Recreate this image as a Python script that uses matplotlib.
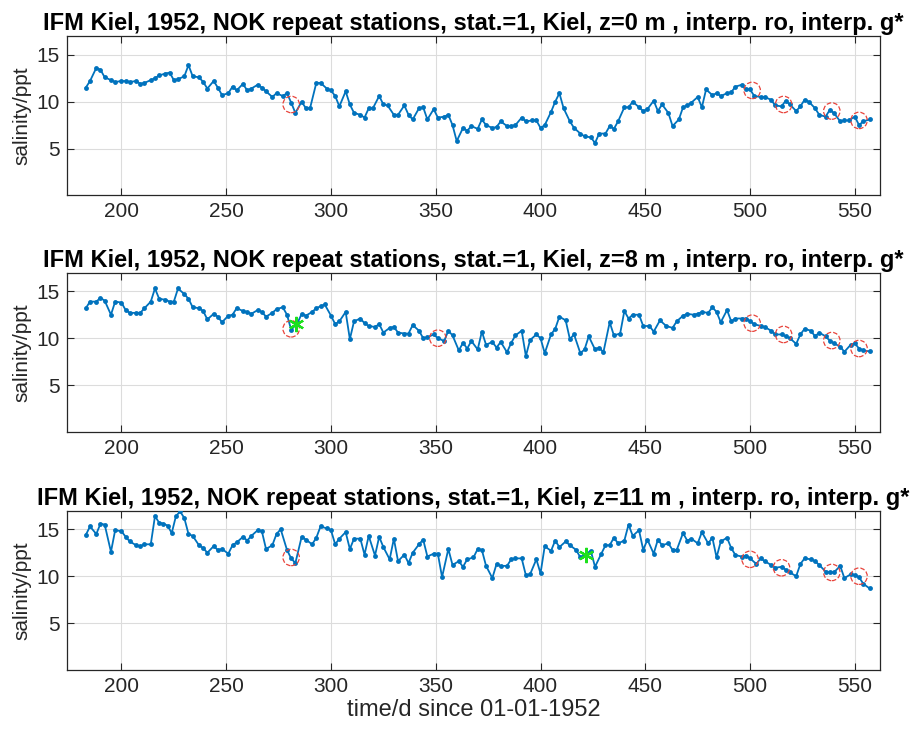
import numpy as np
import matplotlib
matplotlib.use("Agg")
import matplotlib.pyplot as plt

# === DATA ===
t1 = [183, 185, 188, 190, 192, 195, 197, 200, 202, 204, 207, 209, 211, 214, 216, 218, 221, 223, 225, 227,
      230, 232, 234, 237, 239, 241, 244, 246, 248, 251, 253, 255, 258, 260, 262, 265, 267, 269, 272, 274,
      277, 279, 281, 283, 286, 288, 290, 293, 295, 298, 300, 302, 304, 307, 309, 311, 314, 316, 318, 320,
      323, 325, 327, 330, 332, 335, 337, 339, 342, 344, 346, 349, 351, 354, 356, 358, 360, 363, 365, 367,
      370, 372, 374, 377, 379, 381, 384, 386, 388, 391, 393, 396, 398, 400, 402, 405, 407, 409, 411, 414,
      416, 419, 421, 424, 426, 428, 431, 433, 435, 437, 440, 442, 444, 447, 449, 451, 454, 456, 458, 461,
      463, 466, 468, 470, 472, 475, 477, 479, 482, 484, 486, 489, 491, 493, 496, 498, 500, 502, 505, 507,
      510, 512, 515, 517, 519, 522, 524, 526, 528, 531, 533, 536, 538, 540, 543, 545, 547, 550, 552, 554,
      557]
s1 = [11.5, 12.2, 13.6, 13.4, 12.6, 12.3, 12.1, 12.2, 12.2, 12.1, 12.2, 11.9, 12.0, 12.3, 12.5, 12.8, 13.0, 13.1, 12.3, 12.4,
      12.7, 13.9, 12.7, 12.6, 12.1, 11.4, 12.2, 11.5, 10.7, 10.9, 11.6, 11.2, 11.9, 11.2, 11.4, 11.8, 11.5, 11.1, 10.5, 10.9,
      10.6, 10.9, 9.9, 8.8, 10.0, 9.3, 9.3, 12.0, 12.0, 11.4, 11.2, 10.6, 9.5, 11.1, 9.7, 8.8, 8.6, 8.3, 9.3, 9.3,
      10.6, 9.7, 9.6, 8.6, 8.6, 9.6, 8.6, 8.1, 9.3, 9.4, 8.1, 9.2, 8.3, 8.4, 8.6, 7.5, 5.8, 7.2, 6.9, 7.4,
      7.1, 8.1, 7.5, 7.2, 7.3, 7.9, 7.4, 7.4, 7.5, 8.3, 7.9, 8.0, 8.0, 7.2, 7.5, 8.9, 10.0, 10.9, 9.3, 7.9,
      7.2, 6.6, 6.3, 6.2, 5.6, 6.6, 6.6, 7.4, 7.1, 7.9, 9.4, 9.4, 10.0, 9.4, 9.0, 9.2, 10.1, 9.0, 9.7, 8.8,
      7.4, 8.1, 9.4, 9.6, 9.9, 10.5, 9.4, 11.3, 10.7, 10.9, 10.6, 10.9, 11.0, 11.6, 11.8, 11.3, 11.3, 10.6, 10.5, 10.5,
      10.2, 9.6, 9.5, 10.1, 9.7, 9.0, 9.5, 10.2, 10.0, 9.3, 8.6, 8.4, 9.1, 8.8, 7.9, 8.0, 8.0, 8.4, 7.5, 7.9,
      8.1]

t2 = [183, 185, 188, 190, 192, 195, 197, 200, 202, 204, 207, 209, 211, 214, 216, 218, 221, 223, 225, 227,
      230, 232, 234, 237, 239, 241, 244, 246, 248, 251, 253, 255, 258, 260, 262, 265, 267, 269, 272, 274,
      277, 279, 281, 284, 286, 288, 291, 293, 295, 297, 300, 302, 304, 307, 309, 311, 314, 316, 318, 321,
      323, 325, 328, 330, 332, 335, 337, 339, 342, 344, 346, 349, 351, 354, 356, 358, 361, 363, 365, 367,
      370, 372, 374, 377, 379, 381, 384, 386, 388, 391, 393, 395, 398, 400, 402, 405, 407, 409, 412, 414,
      416, 419, 421, 423, 426, 428, 430, 433, 435, 438, 440, 442, 444, 447, 449, 452, 454, 457, 460, 463,
      465, 468, 470, 473, 475, 477, 480, 482, 484, 486, 489, 491, 493, 496, 498, 500, 502, 505, 507, 510,
      512, 515, 517, 519, 522, 524, 526, 529, 531, 533, 536, 538, 540, 543, 545, 548, 550, 552, 554, 557]
s2 = [13.2, 13.9, 13.9, 14.3, 14.0, 12.5, 13.9, 13.8, 13.0, 12.7, 12.7, 12.7, 13.2, 13.9, 15.3, 14.2, 14.1, 13.9, 13.9, 15.3,
      14.7, 14.2, 13.3, 13.2, 12.9, 12.0, 12.6, 12.3, 11.7, 12.4, 12.5, 13.2, 12.9, 12.8, 12.6, 13.0, 12.8, 12.3, 12.7, 13.1,
      13.3, 12.5, 10.9, 11.6, 12.6, 12.4, 12.8, 13.2, 13.4, 13.6, 12.4, 11.5, 11.8, 12.8, 9.9, 11.8, 12.1, 11.6, 11.3, 11.2,
      11.5, 10.6, 11.1, 11.2, 10.6, 10.5, 10.5, 11.4, 10.8, 10.0, 10.1, 10.4, 10.0, 9.7, 10.8, 10.3, 8.7, 9.5, 8.9, 9.7,
      8.8, 10.7, 9.3, 9.6, 9.0, 9.6, 8.5, 9.5, 10.3, 10.8, 8.1, 9.8, 10.4, 10.0, 8.4, 10.4, 11.0, 12.3, 11.9, 9.9,
      10.4, 8.4, 8.8, 10.2, 8.8, 9.0, 8.5, 11.7, 10.3, 10.5, 12.9, 12.1, 12.5, 12.5, 11.3, 11.3, 10.7, 11.9, 11.3, 11.1,
      11.8, 12.4, 12.6, 12.5, 12.6, 12.8, 12.7, 13.3, 12.8, 11.7, 13.0, 11.8, 12.1, 12.1, 12.1, 11.8, 11.5, 11.3, 11.2, 10.8,
      10.4, 10.4, 10.2, 10.0, 9.4, 10.4, 11.0, 10.8, 10.2, 10.6, 10.2, 9.75, 9.45, 9.1, 8.55, 9.3, 9.45, 8.9, 8.7, 8.6]

t3 = [183, 185, 188, 190, 192, 195, 197, 200, 202, 204, 207, 209, 211, 214, 216, 218, 220, 222, 224, 226,
      228, 230, 232, 234, 237, 239, 241, 244, 246, 248, 251, 253, 255, 258, 260, 262, 265, 267, 269, 272,
      274, 276, 279, 281, 283, 286, 288, 291, 293, 295, 298, 300, 302, 304, 307, 309, 311, 314, 316, 318,
      321, 323, 325, 328, 330, 332, 335, 337, 339, 342, 344, 346, 349, 351, 353, 356, 358, 361, 363, 365,
      368, 370, 372, 374, 377, 379, 381, 384, 386, 388, 391, 393, 395, 398, 400, 402, 405, 407, 409, 412,
      414, 417, 419, 421, 424, 426, 429, 431, 433, 435, 437, 440, 442, 444, 447, 449, 451, 454, 456, 458,
      461, 463, 465, 468, 470, 472, 475, 477, 480, 482, 484, 486, 489, 491, 493, 496, 498, 500, 503, 505,
      507, 510, 512, 515, 517, 519, 522, 524, 526, 529, 531, 533, 536, 538, 540, 543, 545, 548, 550, 552,
      554, 557]
s3 = [14.4, 15.3, 14.5, 15.6, 15.5, 12.6, 14.9, 14.8, 14.2, 13.7, 13.3, 13.2, 13.4, 13.4, 16.4, 15.7, 15.6, 15.4, 14.6, 16.4,
      16.9, 16.2, 14.5, 14.3, 13.3, 13.0, 12.5, 13.2, 12.8, 12.9, 12.4, 13.3, 13.6, 14.2, 13.8, 14.3, 14.9, 14.8, 12.9, 13.3,
      14.5, 15.0, 12.8, 11.9, 11.4, 14.2, 13.9, 13.4, 14.1, 15.3, 15.1, 14.9, 13.4, 14.0, 14.7, 12.9, 14.0, 14.0, 12.3, 14.3,
      12.2, 14.2, 13.1, 11.8, 14.0, 11.6, 12.3, 11.4, 12.5, 13.4, 13.9, 12.1, 12.4, 12.4, 9.9, 12.9, 11.2, 11.6, 11.0, 11.8,
      12.0, 12.9, 12.8, 11.1, 9.8, 11.3, 11.1, 11.1, 11.8, 11.9, 11.9, 10.1, 10.2, 11.8, 10.3, 13.2, 12.7, 13.8, 13.1, 13.7,
      13.3, 12.8, 12.0, 12.3, 12.7, 11.0, 12.4, 13.3, 13.3, 14.1, 13.5, 13.8, 15.5, 14.3, 14.9, 12.8, 13.9, 12.4, 13.9, 13.3,
      13.5, 12.8, 12.8, 14.6, 13.8, 14.0, 13.5, 14.7, 13.5, 14.1, 12.0, 13.7, 14.1, 13.0, 12.25, 12.1, 12.2, 11.9, 11.3, 11.9,
      11.6, 11.2, 10.9, 11.0, 10.7, 10.4, 10.0, 11.3, 11.9, 11.8, 11.6, 11.2, 10.5, 10.4, 10.4, 11.1, 9.8, 10.2, 10.1, 9.9,
      9.2, 8.7]

# interpolated points (red circles) and replaced points (green asterisks)
circ_t = [[281, 501, 516, 539, 552],
          [281, 351, 501, 516, 539, 552],
          [281, 500, 515, 539, 552]]
circ_s = [[9.7, 11.2, 9.7, 9.0, 8.0],
          [11.0, 10.0, 11.6, 10.4, 9.75, 8.9],
          [12.0, 11.8, 10.9, 10.4, 10.0]]
star_t = [[], [283.5], [421.5]]
star_s = [[], [11.5], [12.3]]

depths = [0, 8, 11]
titles = [f"IFM Kiel, 1952, NOK repeat stations, stat.=1, Kiel, z={z} m , interp. ro, interp. g*"
          for z in depths]

# === PLOT ===
plt.rcParams['font.family'] = ['Liberation Sans', 'DejaVu Sans']
fig = plt.figure(figsize=(9.16, 7.33), dpi=100)

left, width, height = 0.0731, 0.8876, 0.2176
bottoms = [0.7333, 0.4106, 0.0859]
series = [(t1, s1), (t2, s2), (t3, s3)]
dark = '#262626'

for k, (t, s) in enumerate(series):
    ax = fig.add_axes([left, bottoms[k], width, height])
    ax.plot(t, s, '-o', color='#0072BD', lw=1.3, ms=3.5, mew=0, zorder=3)
    ax.scatter(circ_t[k], circ_s[k], s=140, facecolors='none', edgecolors='#e8433b',
               linewidths=0.9, linestyle='--', zorder=4)
    if star_t[k]:
        ax.plot(star_t[k], star_s[k], linestyle='none', marker=(6, 2, 0), ms=11,
                mec='#1de01d', mew=1.6, zorder=5)
    ax.set_xlim(174, 562)
    ax.set_ylim(0, 17)
    ax.set_xticks(np.arange(200, 551, 50))
    ax.set_yticks([5, 10, 15])
    ax.grid(True, color='#dcdcdc', lw=0.8)
    ax.set_axisbelow(True)
    ax.tick_params(direction='in', length=5, width=0.8, colors=dark, labelsize=15,
                   top=True, right=True, pad=5)
    for sp in ax.spines.values():
        sp.set_color(dark)
        sp.set_linewidth(0.9)
    ax.set_ylabel('salinity/ppt', fontsize=15, color=dark, labelpad=4)
    ax.set_title(titles[k], fontsize=17, fontweight='bold', color='black', pad=4)
    if k == 2:
        ax.set_xlabel('time/d since 01-01-1952', fontsize=17, color=dark, labelpad=2)

fig.savefig('out.png', dpi=100)
